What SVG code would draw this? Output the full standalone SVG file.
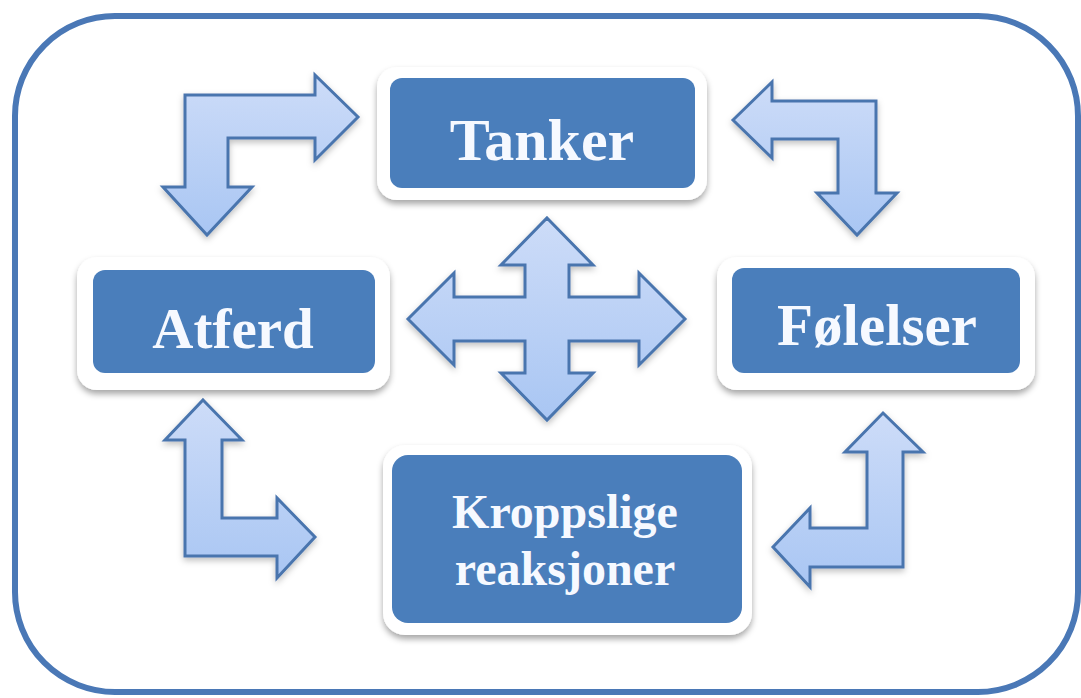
<svg xmlns="http://www.w3.org/2000/svg" width="1081" height="698" viewBox="0 0 1081 698">
  <style>
    .frame { fill: #ffffff; stroke: #4a78b6; stroke-width: 6; }
    .card { fill: #ffffff; filter: url(#cardShadow); }
    .box { fill: #4a7ebb; }
    .label { font-family: "Liberation Serif", "Times New Roman", serif; font-weight: bold; fill: #f6f9ff; text-anchor: middle; }
    .arrow { fill: url(#arrowFill); stroke: #4a75ae; stroke-width: 3; stroke-linejoin: miter; filter: url(#arrowShadow); }
  </style>
  <defs>
    <linearGradient id="arrowFill" x1="0" y1="0" x2="0" y2="1">
      <stop offset="0" stop-color="#cddcf8"/>
      <stop offset="1" stop-color="#a9c6f3"/>
    </linearGradient>
    <filter id="cardShadow" x="-10%" y="-10%" width="120%" height="130%">
      <feDropShadow dx="0" dy="4" stdDeviation="3" flood-color="#000" flood-opacity="0.35"/>
    </filter>
    <filter id="arrowShadow" x="-10%" y="-10%" width="120%" height="130%">
      <feDropShadow dx="0" dy="3" stdDeviation="3" flood-color="#000" flood-opacity="0.25"/>
    </filter>
  </defs>

  <rect width="1081" height="698" fill="#ffffff"/>
  <rect class="frame" x="15" y="16" width="1063" height="676" rx="100" ry="100"/>

  <g id="connectors">
    <path class="arrow" d="M185,95 L315,95 L315,75 L358,117 L315,160 L315,138 L228,138 L228,187 L252,187 L207,235 L163,187 L185,187 Z"/>
    <path class="arrow" d="M733,120 L772,82 L772,101 L876,101 L876,193 L897,193 L857,235 L817,193 L838,193 L838,139 L772,139 L772,158 Z"/>
    <path class="arrow" d="M547,218 L593,265 L569,265 L569,297 L639,297 L639,273 L685,319 L639,365 L639,341 L569,341 L569,373 L593,373 L547,420 L501,373 L525,373 L525,341 L454,341 L454,365 L408,319 L454,273 L454,297 L525,297 L525,265 L501,265 Z"/>
    <path class="arrow" d="M203,400 L242,440 L222,440 L222,518 L277,518 L277,498 L315,537 L277,578 L277,556 L185,556 L185,440 L165,440 Z"/>
    <path class="arrow" d="M883,413 L923,452 L903,452 L903,567 L810,567 L810,587 L773,547 L810,508 L810,528 L867,528 L867,452 L845,452 Z"/>
  </g>

  <g id="tanker">
    <rect class="card" x="377" y="67" width="330" height="133" rx="20"/>
    <rect class="box" x="390" y="78" width="305" height="110" rx="12"/>
    <text class="label" x="542" y="160" font-size="60">Tanker</text>
  </g>

  <g id="atferd">
    <rect class="card" x="77" y="257" width="313" height="133" rx="20"/>
    <rect class="box" x="93" y="270" width="282" height="103" rx="12"/>
    <text class="label" x="233" y="348" font-size="57">Atferd</text>
  </g>

  <g id="folelser">
    <rect class="card" x="717" y="257" width="318" height="133" rx="20"/>
    <rect class="box" x="732" y="268" width="288" height="105" rx="12"/>
    <text class="label" x="877" y="345" font-size="59">Følelser</text>
  </g>

  <g id="kroppslige">
    <rect class="card" x="383" y="445" width="369" height="190" rx="22"/>
    <rect class="box" x="392" y="455" width="350" height="168" rx="16"/>
    <text class="label" x="565" y="528" font-size="48">Kroppslige</text>
    <text class="label" x="565" y="585" font-size="48">reaksjoner</text>
  </g>
</svg>
